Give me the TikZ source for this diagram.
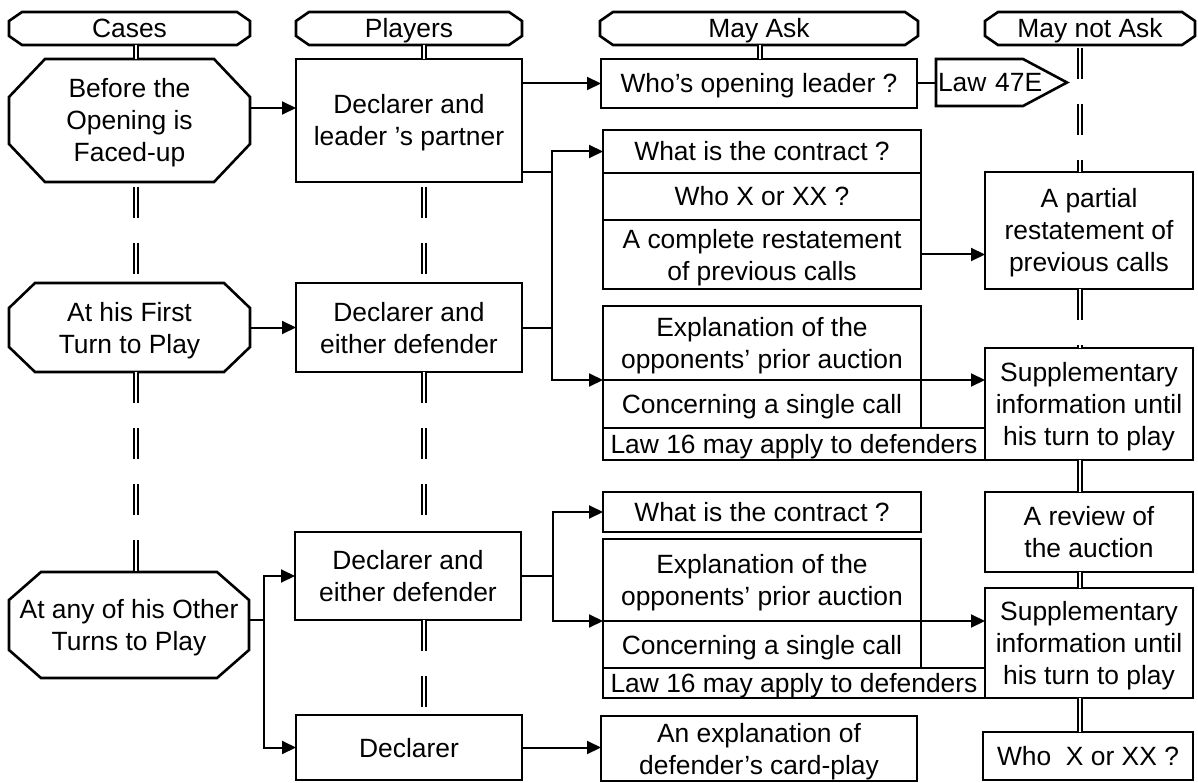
\documentclass[tikz,border=0pt]{standalone}
\usepackage{fontspec}
\setmainfont{Liberation Sans}
\usetikzlibrary{arrows.meta,calc}
\newcommand\mychamf[3]{\draw[shapeline] ([xshift=#2pt]#1.north west) -- ([xshift=-#2pt]#1.north east) -- ([yshift=-#3pt]#1.north east) -- ([yshift=#3pt]#1.south east) -- ([xshift=-#2pt]#1.south east) -- ([xshift=#2pt]#1.south west) -- ([yshift=#3pt]#1.south west) -- ([yshift=-#3pt]#1.north west) -- cycle;}
\begin{document}
\begin{tikzpicture}[x=1pt,y=-1pt,
  font=\fontsize{26.4}{32}\selectfont,
  wh/.style 2 args={minimum width=#1pt, minimum height=#2pt},
  box/.style={draw, line width=2.6pt, inner sep=0pt, outer sep=0pt, align=center},
  txt/.style={inner sep=0pt, outer sep=0pt, align=center},
  one/.style={text height=19pt, text depth=0pt},
  two/.style={text height=51pt, text depth=0pt},
  three/.style={text height=83pt, text depth=0pt},
  shapeline/.style={line width=2.6pt, line join=miter},
  conn/.style={line width=2pt},
  arr/.style={line width=2pt, line join=miter, -{Triangle[length=14pt,width=13pt]}},
  dbl/.style={draw=black, line width=1.9pt, double=white, double distance=2.2pt},
  dashdbl/.style={dbl, dash pattern=on 31pt off 25pt}
]
\fill[white] (0,0) rectangle (1198,783);
\useasboundingbox (0,0) rectangle (1198,783);

% column x positions for the double lines
\coordinate (cC) at (136,0);
\coordinate (cP) at (424,0);
\coordinate (cA) at (760,0);
\coordinate (cN) at (1080,0);
\coordinate (jx1) at (552,0);
\coordinate (jx2) at (553,0);
\coordinate (jx3) at (264,0);

% headers
\node[txt, one, wh={241}{33}] (HC) at (129.5,28.5) {Cases};
\node[txt, one, wh={226}{33}] (HP) at (409,28.5) {Players};
\node[txt, one, wh={318}{33}] (HA) at (759,28.5) {May Ask};
\node[txt, one, wh={210}{33}] (HN) at (1090,28.5) {May not Ask};
\mychamf{HC}{13}{9}
\mychamf{HP}{13}{9}
\mychamf{HA}{13}{9}
\mychamf{HN}{13}{9}

% cases (octagons)
\node[txt, three, wh={241}{123}] (O1) at (129.5,120.5) {Before the\\Opening is\\Faced-up};
\node[txt, two, wh={241}{89}] (O2) at (129.5,327.5) {At his First\\Turn to Play};
\node[txt, two, wh={240}{106}] (O3) at (129,625) {At any of his Other\\Turns to Play};
\mychamf{O1}{36}{38}
\mychamf{O2}{26}{25}
\mychamf{O3}{32}{28}

% players
\node[box, two, wh={226}{123}] (P1) at (409,120.5) {Declarer and\\leader ’s partner};
\node[box, two, wh={226}{89}] (P2) at (409,327.5) {Declarer and\\either defender};
\node[box, two, wh={226}{88}] (P3) at (408,576) {Declarer and\\either defender};
\node[box, one, wh={226}{65}] (P4) at (409,747.5) {Declarer};

% may ask
\node[box, one, wh={316}{49}] (A1) at (759,83.5) {Who’s opening leader ?};
\node[box, one, wh={318}{43}] (G1a) at (762,151.5) {What is the contract ?};
\node[box, one, wh={318}{47}] (G1b) at (762,196.5) {Who X or XX ?};
\node[box, two, wh={318}{69}] (G1c) at (762,254.5) {A complete restatement\\of previous calls};
\node[box, two, wh={318}{74}] (E1a) at (762,343) {Explanation of the\\opponents’ prior auction};
\node[box, one, wh={318}{48}] (E1b) at (762,404) {Concerning a single call};
\node[box, one, wh={382}{32}] (E1c) at (794,444) {Law 16 may apply to defenders};
\node[box, one, wh={318}{40}] (C2) at (762,512) {What is the contract ?};
\node[box, two, wh={318}{82}] (E2a) at (762,580) {Explanation of the\\opponents’ prior auction};
\node[box, one, wh={318}{47}] (E2b) at (762,644.5) {Concerning a single call};
\node[box, one, wh={382}{30}] (E2c) at (794,683) {Law 16 may apply to defenders};
\node[box, two, wh={316}{65}] (D) at (759,748.5) {An explanation of\\defender’s card-play};

% may not ask
\node[one, inner xsep=2pt, inner ysep=0pt, outer sep=0pt, text width=127pt, align=left, minimum height=47pt] (L47) at (1001.5,82.5) {Law 47E};
\draw[shapeline] (L47.north west) -- ([xshift=-44pt]L47.north east) -- (L47.east) -- ([xshift=-44pt]L47.south east) -- (L47.south west) -- cycle;
\node[box, three, wh={208}{117}] (N1) at (1089,230.5) {A partial\\restatement of\\previous calls};
\node[box, three, wh={208}{112}] (N2) at (1089,404) {Supplementary\\information until\\his turn to play};
\node[box, two, wh={208}{80}] (N3) at (1089,532) {A review of\\the auction};
\node[box, three, wh={208}{110}] (N4) at (1089,643) {Supplementary\\information until\\his turn to play};
\node[box, one, wh={210}{48}] (N5) at (1088,756) {Who\ \ X or XX ?};

% double lines
\draw[dbl] (HC.south -| cC) -- (O1.north -| cC);
\draw[dashdbl, dash phase=51pt] (O1.south -| cC) -- (O2.north -| cC);
\draw[dashdbl] (O2.south -| cC) -- (O3.north -| cC);
\draw[dbl] (HP.south -| cP) -- (P1.north -| cP);
\draw[dashdbl, dash phase=51pt] (P1.south -| cP) -- (P2.north -| cP);
\draw[dashdbl] (P2.south -| cP) -- (P3.north -| cP);
\draw[dashdbl] (P3.south -| cP) -- (P4.north -| cP);
\draw[dbl] (HA.south -| cA) -- (A1.north -| cA);
\draw[dashdbl, dash phase=53pt] (HN.south -| cN) -- (N1.north -| cN);
\draw[dashdbl] (N1.south -| cN) -- (N2.north -| cN);
\draw[dbl] (N2.south -| cN) -- (N3.north -| cN);
\draw[dbl] (N3.south -| cN) -- (N4.north -| cN);
\draw[dbl] (N4.south -| cN) -- (N5.north -| cN);

% connectors
\draw[arr] ([yshift=12.5pt]O1.east) -- ([yshift=12.5pt]P1.west);
\draw[arr] (P1.east |- A1.west) -- (A1.west);
\draw[conn] (A1.east) -- (L47.west |- A1.east);
\coordinate (p1o) at ([yshift=10pt]P1.south east);
\draw[conn] (p1o) -- (p1o -| jx1);
\draw[conn] (P2.east) -- (P2.east -| jx1);
\draw[arr] (E1a.south west -| jx1) |- (G1a.west);
\draw[arr] (G1a.west -| jx1) |- (E1a.south west);
\draw[arr] (G1c.east) -- (N1.west |- G1c.east);
\draw[arr] (E1a.south east) -- (N2.west |- E1a.south east);
\draw[arr] (O2.east) -- (P2.west);
\coordinate (o3o) at ([yshift=5pt]O3.east);
\draw[conn] (o3o) -- (o3o -| jx3);
\draw[arr] (P4.west -| jx3) |- (P3.west);
\draw[arr] (P3.west -| jx3) |- (P4.west);
\draw[conn] (P3.east) -- (P3.east -| jx2);
\draw[arr] (E2a.south west -| jx2) |- (C2.west);
\draw[arr] (C2.west -| jx2) |- (E2a.south west);
\draw[arr] (E2a.south east) -- (N4.west |- E2a.south east);
\draw[arr] (P4.east) -- (D.west |- P4.east);
\end{tikzpicture}
\end{document}
